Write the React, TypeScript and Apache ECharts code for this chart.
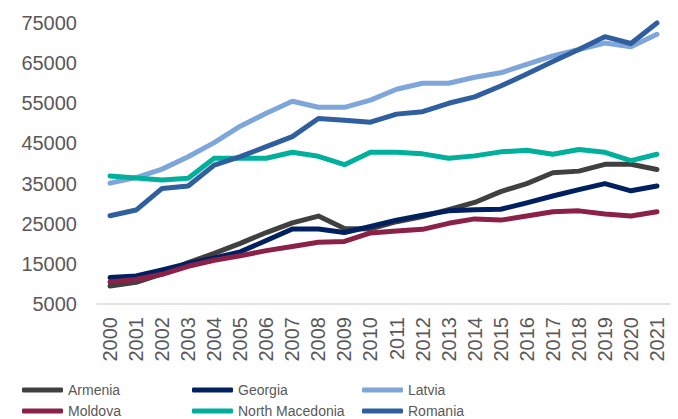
import React, { useEffect, useRef } from "react";
import * as echarts from "echarts";

const years = ["2000","2001","2002","2003","2004","2005","2006","2007","2008","2009","2010","2011","2012","2013","2014","2015","2016","2017","2018","2019","2020","2021"];

const armenia = [9500,10400,12500,15300,17600,20100,22800,25200,26900,23800,23700,25500,26800,28500,30300,33000,35000,37700,38100,39800,39800,38500];
const georgia = [11600,12000,13500,15100,16500,18000,20800,23700,23700,22800,24300,25900,27100,28200,28500,28600,30200,31900,33500,35000,33200,34400];
const latvia = [35100,36500,38600,41700,45200,49300,52500,55500,54000,54000,55800,58500,60000,60000,61500,62600,64700,66800,68400,70000,69100,72200];
const moldova = [10500,11100,12400,14400,15900,17000,18300,19300,20400,20600,22700,23200,23600,25100,26200,25900,26900,28000,28200,27400,26900,28000];
const northMacedonia = [36900,36400,35900,36300,41300,41300,41300,42800,41800,39700,42800,42800,42400,41300,41900,42900,43300,42300,43500,42800,40700,42300];
const romania = [27000,28400,33800,34400,39600,41700,44200,46700,51200,50800,50300,52300,52900,55000,56600,59300,62300,65400,68400,71600,69900,75000];

const yTicks = { min: 5000, max: 75000, step: 10000 };

const seriesDefs = [
  { name: "Armenia", data: armenia, color: "#404040" },
  { name: "Georgia", data: georgia, color: "#002060" },
  { name: "Latvia", data: latvia, color: "#7EA6DA" },
  { name: "Moldova", data: moldova, color: "#8C2148" },
  { name: "North Macedonia", data: northMacedonia, color: "#00B09C" },
  { name: "Romania", data: romania, color: "#2F5F9F" },
];

const legendSlots = [
  { name: "Armenia", col: 0, row: 0 },
  { name: "Georgia", col: 1, row: 0 },
  { name: "Latvia", col: 2, row: 0 },
  { name: "Moldova", col: 0, row: 1 },
  { name: "North Macedonia", col: 1, row: 1 },
  { name: "Romania", col: 2, row: 1 },
];

const legendFont = {
  fontFamily: "'Liberation Sans', Arial, sans-serif",
  fontSize: 14,
  color: "#595959",
};

export default function App() {
  const ref = useRef<HTMLDivElement>(null);
  useEffect(() => {
    if (!ref.current) return;
    const chart = echarts.init(ref.current, null, { renderer: "svg" });
    chart.setOption({
      animation: false,
      backgroundColor: "#ffffff",
      grid: { left: 97, right: 8, top: 23, bottom: 115 },
      legend: legendSlots.map((l) => ({
        orient: "horizontal",
        left: 22 + l.col * 170,
        top: 383 + l.row * 21,
        itemWidth: 41,
        itemHeight: 5,
        icon: "roundRect",
        padding: 0,
        textStyle: legendFont,
        data: [l.name],
      })),
      xAxis: {
        type: "category",
        data: years,
        boundaryGap: true,
        axisLine: { lineStyle: { color: "#D9D9D9", width: 1.5 } },
        axisTick: { show: false },
        axisLabel: {
          interval: 0,
          rotate: 90,
          margin: 13,
          fontFamily: "'Liberation Sans', Arial, sans-serif",
          fontSize: 20,
          color: "#595959",
        },
      },
      yAxis: {
        type: "value",
        min: yTicks.min,
        max: yTicks.max,
        interval: yTicks.step,
        splitLine: { show: false },
        axisLine: { show: false },
        axisTick: { show: false },
        axisLabel: {
          margin: 20,
          formatter: (v: number) => String(v),
          fontFamily: "'Liberation Sans', Arial, sans-serif",
          fontSize: 20,
          color: "#595959",
        },
      },
      series: seriesDefs.map((s) => ({
        name: s.name,
        type: "line",
        data: s.data,
        showSymbol: false,
        symbol: "none",
        clip: false,
        color: s.color,
        lineStyle: { color: s.color, width: 5, cap: "round", join: "round" },
        itemStyle: { color: s.color },
      })),
    });
    return () => chart.dispose();
  }, []);
  return (
    <div
      ref={ref}
      style={{ position: "fixed", left: 0, top: 0, width: 678, height: 419 }}
    />
  );
}
